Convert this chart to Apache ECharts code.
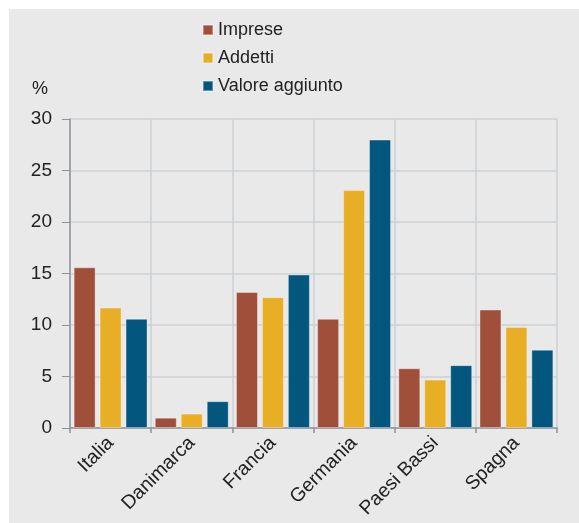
<!DOCTYPE html>
<html>
<head>
<meta charset="utf-8">
<script src="https://cdn.jsdelivr.net/npm/echarts@6/dist/echarts.min.js"></script>
<style>
  html, body { margin: 0; padding: 0; background: #ffffff; }
  #wrap { position: relative; width: 579px; height: 523px; }
  #bg { position: absolute; left: 9px; top: 9px; width: 570px; height: 514px; background: #e9e9e9; }
  #chart { position: absolute; left: 0; top: 0; width: 579px; height: 523px; }
</style>
</head>
<body>
<div id="wrap"><div id="bg"></div><div id="chart"></div></div>
<script>
const categories = ['Italia', 'Danimarca', 'Francia', 'Germania', 'Paesi Bassi', 'Spagna'];
const seriesNames = ['Imprese', 'Addetti', 'Valore aggiunto'];
const imprese = [15.6, 1.0, 13.2, 10.6, 5.8, 11.5];
const addetti = [11.7, 1.4, 12.7, 23.1, 4.7, 9.8];
const valoreAggiunto = [10.6, 2.6, 14.9, 28.0, 6.1, 7.6];
const yTicks = [0, 5, 10, 15, 20, 25, 30];
const unitLabel = '%';

const colors = ['#a0503a', '#e8ae26', '#03577f'];
const font = '"Liberation Sans", Arial, sans-serif';

const chart = echarts.init(document.getElementById('chart'), null, { renderer: 'canvas' });
const dataSets = [imprese, addetti, valoreAggiunto];

chart.setOption({
  backgroundColor: 'transparent',
  animation: false,
  textStyle: { fontFamily: font },
  legend: {
    orient: 'vertical',
    left: 197,
    top: 15,
    itemWidth: 10,
    itemHeight: 10,
    itemGap: 8,
    icon: 'rect',
    textStyle: { fontSize: 18, color: '#222', fontFamily: font, lineHeight: 20 },
    data: seriesNames
  },
  graphic: [{
    type: 'text',
    left: 32,
    top: 80,
    style: { text: unitLabel, font: '18px ' + font, fill: '#222' }
  }],
  grid: { left: 70, right: 22, top: 119, bottom: 95, containLabel: false },
  xAxis: {
    type: 'category',
    data: categories,
    axisLine: { show: true, lineStyle: { color: '#8d9399', width: 1.5 } },
    axisTick: { show: true, length: 5, lineStyle: { color: '#8d9399', width: 1.5 } },
    splitLine: { show: true, interval: 0, lineStyle: { color: '#cdd0d3', width: 1.5 } },
    axisLabel: { rotate: 45, fontSize: 19.5, color: '#222', margin: 12, interval: 0, fontFamily: font }
  },
  yAxis: {
    type: 'value',
    min: 0,
    max: 30,
    interval: 5,
    axisLine: { show: true, lineStyle: { color: '#8d9399', width: 1.5 } },
    axisTick: { show: true, inside: false, length: 8, lineStyle: { color: '#8d9399', width: 1 } },
    splitLine: { show: true, lineStyle: { color: '#cdd0d3', width: 1.5 } },
    axisLabel: { fontSize: 19, color: '#222', margin: 18, fontFamily: font,
      formatter: v => yTicks.includes(v) ? String(v) : '' }
  },
  series: dataSets.map((d, i) => ({
    name: seriesNames[i],
    type: 'bar',
    data: d,
    barWidth: 22,
    barGap: '18%',
    itemStyle: { color: colors[i], borderColor: 'rgba(255,255,255,0.35)', borderWidth: 1 }
  }))
});
</script>
</body>
</html>
